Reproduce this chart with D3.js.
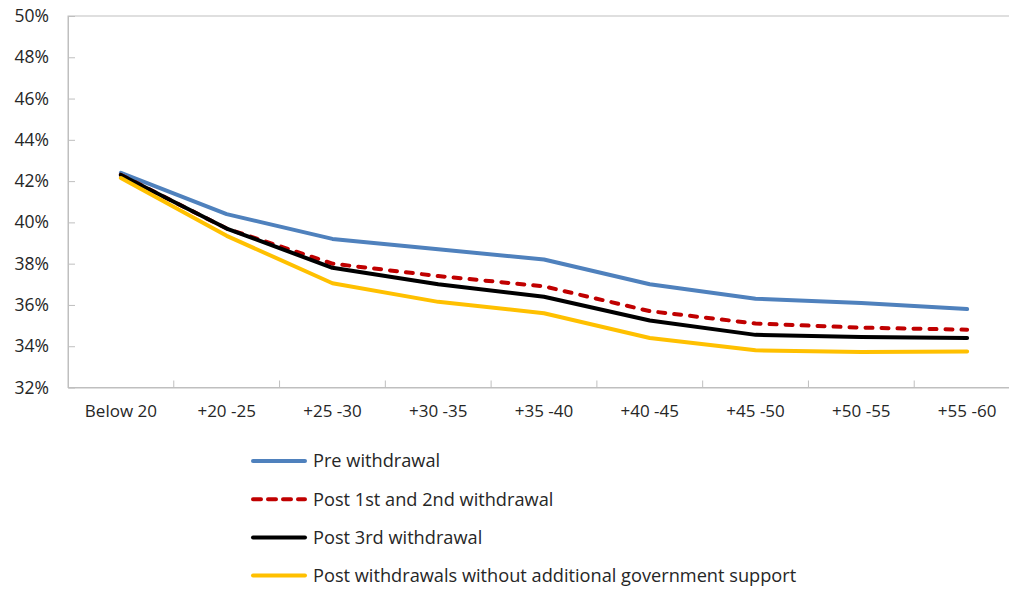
<!DOCTYPE html>
<html>
<head>
<meta charset="utf-8">
<script src="https://cdn.jsdelivr.net/npm/d3@7"></script>
<style>
  body { margin: 0; background: #fff; }
  svg text { font-family: "Open Sans", "Noto Sans", sans-serif; fill: #262626; }
</style>
</head>
<body>
<svg id="chart" width="1009" height="590"></svg>
<script>
// age bands on the x axis
var categories = ["Below 20", "+20 -25", "+25 -30", "+30 -35", "+35 -40", "+40 -45", "+45 -50", "+50 -55", "+55 -60"];

// values in percent
var preWithdrawal = [42.4, 40.4, 39.2, 38.7, 38.2, 37.0, 36.3, 36.1, 35.8];
var post12 = [42.3, 39.7, 38.0, 37.4, 36.9, 35.7, 35.1, 34.9, 34.8];
var post3 = [42.3, 39.7, 37.8, 37.0, 36.4, 35.25, 34.55, 34.45, 34.4];
var postNoSupport = [42.15, 39.35, 37.05, 36.15, 35.6, 34.4, 33.8, 33.72, 33.75];

var seriesNames = ["Pre withdrawal", "Post 1st and 2nd withdrawal", "Post 3rd withdrawal", "Post withdrawals without additional government support"];

var yTicks = [32, 34, 36, 38, 40, 42, 44, 46, 48, 50];

var series = [
    {name: seriesNames[0], values: preWithdrawal, color: "#4F81BD", dash: null},
    {name: seriesNames[1], values: post12, color: "#C00000", dash: "7,9"},
    {name: seriesNames[2], values: post3, color: "#000000", dash: null},
    {name: seriesNames[3], values: postNoSupport, color: "#FFC000", dash: null}
];

var svg = d3.select("#chart");

var plotLeft = 68, plotTop = 16, plotBottom = 387.5, plotRight = 1020;

var x = d3.scaleBand().domain(categories).range([plotLeft, plotRight]);
var y = d3.scaleLinear().domain([32, 50]).range([plotBottom, plotTop]);

var axisColor = "#BFBFBF";

// plot area border
svg.append("rect")
    .attr("x", plotLeft)
    .attr("y", plotTop)
    .attr("width", plotRight - plotLeft)
    .attr("height", plotBottom - plotTop)
    .attr("fill", "none")
    .attr("stroke", axisColor)
    .attr("stroke-width", 1);

// y axis, ticks pointing inward
var yAxis = svg.append("g")
    .attr("transform", "translate(" + plotLeft + ",0)")
    .call(d3.axisLeft(y)
        .tickValues(yTicks)
        .tickSizeInner(-7)
        .tickSizeOuter(0)
        .tickPadding(19)
        .tickFormat(function(d) { return d + "%"; }));

yAxis.select(".domain").attr("stroke", axisColor);
yAxis.selectAll(".tick line").attr("stroke", axisColor);
yAxis.selectAll("text")
    .attr("font-size", "17.5px")
    .style("font-family", "'Open Sans', 'Noto Sans', sans-serif")
    .attr("fill", "#262626");

// x axis labels
var xAxis = svg.append("g")
    .attr("transform", "translate(0," + plotBottom + ")")
    .call(d3.axisBottom(x).tickSize(0).tickPadding(17));

xAxis.select(".domain").attr("stroke", axisColor);
xAxis.selectAll("text")
    .attr("font-size", "17px")
    .style("font-family", "'Open Sans', 'Noto Sans', sans-serif")
    .attr("fill", "#262626");

// tick marks between the categories
svg.append("g")
    .selectAll("line")
    .data(categories.slice(1))
    .enter()
    .append("line")
        .attr("x1", function(d) { return x(d); })
        .attr("x2", function(d) { return x(d); })
        .attr("y1", plotBottom - 7)
        .attr("y2", plotBottom)
        .attr("stroke", axisColor);

var line = d3.line()
    .x(function(d, i) { return x(categories[i]) + x.bandwidth() / 2; })
    .y(function(d) { return y(d); });

svg.append("g")
    .selectAll("path")
    .data(series)
    .enter()
    .append("path")
        .attr("d", function(d) { return line(d.values); })
        .attr("fill", "none")
        .attr("stroke", function(d) { return d.color; })
        .attr("stroke-width", 4)
        .attr("stroke-linejoin", "round")
        .attr("stroke-linecap", "round")
        .attr("stroke-dasharray", function(d) { return d.dash; });

// legend
var legend = svg.append("g")
    .selectAll("g")
    .data(series)
    .enter()
    .append("g")
        .attr("transform", function(d, i) { return "translate(251," + (461 + i * 38.2) + ")"; });

legend.append("line")
    .attr("x1", 2)
    .attr("x2", 54)
    .attr("stroke", function(d) { return d.color; })
    .attr("stroke-width", 4)
    .attr("stroke-linecap", "round")
    .attr("stroke-dasharray", function(d) { return d.dash ? "8,7" : null; });

legend.append("text")
    .attr("x", 62)
    .attr("dy", "0.35em")
    .attr("font-size", "18.2px")
    .text(function(d) { return d.name; });
</script>
</body>
</html>
